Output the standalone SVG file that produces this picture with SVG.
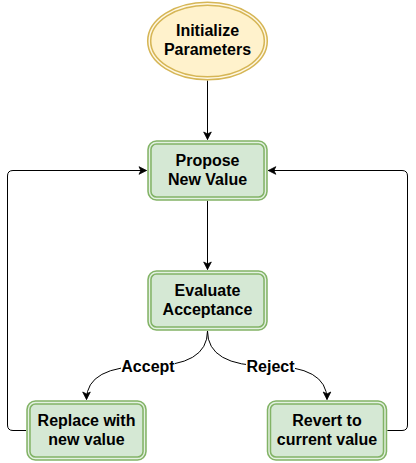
<svg xmlns="http://www.w3.org/2000/svg" width="416" height="463" viewBox="0 0 416 463">
  <style>
    .g-out { fill: #d5e8d4; stroke: #82b366; stroke-width: 4.5; }
    .g-in { fill: none; stroke: #e4f1e2; stroke-width: 1.4; }
    .y-out { fill: #fff2cc; stroke: #d6b656; stroke-width: 4.5; }
    .y-in { fill: none; stroke: #fff8e4; stroke-width: 1.4; }
    .t { font-family: "Liberation Sans", Arial, Helvetica, sans-serif; font-weight: bold; font-size: 16px; fill: #000; text-anchor: middle; }
    .edge { fill: none; stroke: #000; stroke-width: 1; }
    .lbl-bg { fill: #fff; }
  </style>
  <defs>
    <marker id="arrow" markerUnits="userSpaceOnUse" markerWidth="12" markerHeight="12" viewBox="-10 -6 12 12" refX="0" refY="0" orient="auto">
      <path d="M0,0 L-7.5,-3.8 L-5.6,0 L-7.5,3.8 Z" fill="#000" stroke="#000" stroke-width="0.8" stroke-linejoin="miter"/>
    </marker>
  </defs>
  <rect width="416" height="463" fill="#fff"/>

  <g id="connectors">
    <path class="edge" d="M207.5,80.5 L207.5,139.5" marker-end="url(#arrow)"/>
    <path class="edge" d="M207.5,200.8 L207.5,269.5" marker-end="url(#arrow)"/>
    <path class="edge" d="M26,430.5 L13,430.5 Q7.5,430.5 7.5,425 L7.5,176 Q7.5,170.5 13,170.5 L146.5,170.5" marker-end="url(#arrow)"/>
    <path class="edge" d="M387.3,430.5 L402,430.5 Q407.5,430.5 407.5,425 L407.5,176 Q407.5,170.5 402,170.5 L268.3,170.5" marker-end="url(#arrow)"/>
    <path class="edge" d="M207.5,331 Q207.5,366 148,366 Q86.5,366 86.5,399.5" marker-end="url(#arrow)"/>
    <path class="edge" d="M207.5,331 Q207.5,366 268,366 Q327,366 327,399.5" marker-end="url(#arrow)"/>
    <g id="label-accept">
      <rect class="lbl-bg" x="121" y="358" width="54" height="17"/>
      <text class="t" x="148" y="372">Accept</text>
    </g>
    <g id="label-reject">
      <rect class="lbl-bg" x="246" y="358" width="49" height="17"/>
      <text class="t" x="270.5" y="372">Reject</text>
    </g>
  </g>

  <g id="node-init">
    <ellipse class="y-out" cx="207.5" cy="41" rx="58.3" ry="37.3"/>
    <ellipse class="y-in" cx="207.5" cy="41" rx="58.3" ry="37.3"/>
    <text class="t" x="207.5" y="36">Initialize</text>
    <text class="t" x="207.5" y="55.2">Parameters</text>
  </g>

  <g id="node-propose">
    <rect class="g-out" x="149.5" y="142.5" width="116" height="56" rx="7"/>
    <rect class="g-in" x="149.5" y="142.5" width="116" height="56" rx="7"/>
    <text class="t" x="207.5" y="166">Propose</text>
    <text class="t" x="207.5" y="185.2">New Value</text>
  </g>

  <g id="node-evaluate">
    <rect class="g-out" x="149.5" y="272.5" width="116" height="56" rx="7"/>
    <rect class="g-in" x="149.5" y="272.5" width="116" height="56" rx="7"/>
    <text class="t" x="207.5" y="296">Evaluate</text>
    <text class="t" x="207.5" y="315.2">Acceptance</text>
  </g>

  <g id="node-replace">
    <rect class="g-out" x="28.5" y="402.5" width="116" height="56" rx="7"/>
    <rect class="g-in" x="28.5" y="402.5" width="116" height="56" rx="7"/>
    <text class="t" x="86.5" y="426">Replace with</text>
    <text class="t" x="86.5" y="445.2">new value</text>
  </g>

  <g id="node-revert">
    <rect class="g-out" x="269" y="402.5" width="116" height="56" rx="7"/>
    <rect class="g-in" x="269" y="402.5" width="116" height="56" rx="7"/>
    <text class="t" x="327" y="426">Revert to</text>
    <text class="t" x="327" y="445.2">current value</text>
  </g>
</svg>
